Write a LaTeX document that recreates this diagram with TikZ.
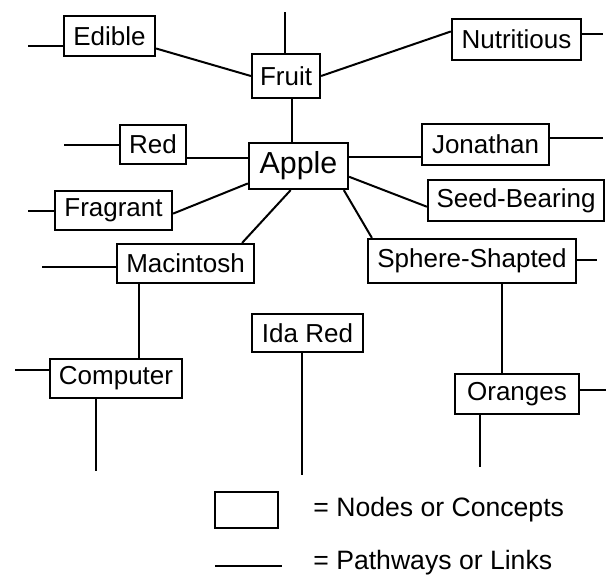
\documentclass[tikz,border=0pt]{standalone}
\usepackage{fontspec}
\setmainfont{Liberation Sans}
\usetikzlibrary{calc}

\begin{document}
\begin{tikzpicture}[x=0.5pt, y=-0.5pt,
  font=\fontsize{13}{15}\selectfont,
  cpt/.style 2 args={draw=black, line width=1.1pt, inner sep=0pt, align=center,
            minimum width=#1pt, minimum height=#2pt},
  ln/.style={line width=1pt, draw=black},
  lgd/.style={anchor=base west, inner sep=0pt, font=\fontsize{13.3}{15}\selectfont}]
\useasboundingbox (0,0) rectangle (606,574);
% concepts
\node[cpt={45.5}{20}] (edible) at (109.5,36) {Edible};
\node[cpt={34}{22}] (fruit) at (286,76) {Fruit};
\node[cpt={64.5}{20.5}] (nutritious) at (516.5,39.5) {Nutritious};
\node[cpt={33}{19.5}] (red) at (153,144.5) {Red};
\node[cpt={49.5}{23}, font=\fontsize{15.2}{17}\selectfont] (apple) at (298.5,166) {Apple};
\node[cpt={63.5}{20.5}] (jonathan) at (485.5,144.5) {Jonathan};
\node[cpt={88}{20.5}] (seed) at (516,200.5) {Seed-Bearing};
\node[cpt={104}{22}] (sphere) at (472,261) {Sphere-Shapted};
\node[cpt={58.5}{19.5}] (fragrant) at (113.5,210.5) {Fragrant};
\node[cpt={68.5}{19.5}] (macintosh) at (185.5,263.5) {Macintosh};
\node[cpt={66}{19.5}] (computer) at (116,378.5) {Computer};
\node[cpt={55.5}{19}] (idared) at (307.5,333) {Ida Red};
\node[cpt={62}{20}] (oranges) at (517,394) {Oranges};
% links between concepts
\draw[ln] (edible.-15) -- (fruit.west);
\draw[ln] (fruit.east) -- (nutritious.173);
\draw[ln] ([xshift=3pt]fruit.south) coordinate (fa) -- (fa |- apple.north);
\draw[ln] (red.-21) -- (red.-21 -| apple.west);
\draw[ln] (apple.10) -- (apple.10 -| jonathan.west);
\draw[ln] (apple.-12) -- (seed.184);
\draw[ln] (apple.-28) -- ([xshift=2.5pt]sphere.north west);
\draw[ln] (fragrant.-3) -- (apple.199);
\draw[ln] (macintosh.20) -- (apple.252);
\draw[ln] ([xshift=15pt]sphere.south) coordinate (so) -- (so |- oranges.north);
\draw[ln] ([xshift=-23.25pt]macintosh.south) coordinate (mc) -- (mc |- computer.north);
% loose links
\coordinate (ed0) at (28,46);
\coordinate (fr0) at (285,12);
\coordinate (nu0) at (603,34);
\coordinate (re0) at (64,144.5);
\coordinate (jo0) at (603,138);
\coordinate (fg0) at (28,210.5);
\coordinate (sp0) at (597,260);
\coordinate (ma0) at (42,267);
\coordinate (co0) at (15,370);
\coordinate (co1) at (96,471);
\coordinate (id0) at (302,475);
\coordinate (or0) at (606,390);
\coordinate (or1) at (480,467);
\draw[ln] (edible.west |- ed0) -- (ed0);
\draw[ln] (fr0 |- fruit.north) -- (fr0);
\draw[ln] (nutritious.east |- nu0) -- (nu0);
\draw[ln] (red.west) -- (re0);
\draw[ln] (jonathan.east |- jo0) -- (jo0);
\draw[ln] (fragrant.west) -- (fg0);
\draw[ln] (sphere.east |- sp0) -- (sp0);
\draw[ln] (macintosh.west |- ma0) -- (ma0);
\draw[ln] (computer.west |- co0) -- (co0);
\draw[ln] (co1 |- computer.south) -- (co1);
\draw[ln] (id0 |- idared.south) -- (id0);
\draw[ln] (oranges.east |- or0) -- (or0);
\draw[ln] (or1 |- oranges.south) -- (or1);
% legend
\node[cpt={31.5}{18}] (lgbox) at (246.5,510) {};
\node[lgd] (lgboxtxt) at (313,516) {= Nodes or Concepts};
\coordinate (lg1) at (215,566);
\coordinate (lg2) at (282,566);
\draw[ln] (lg1) -- (lg2);
\node[lgd] (lglinetxt) at (313,569) {= Pathways or Links};
\end{tikzpicture}
\end{document}
